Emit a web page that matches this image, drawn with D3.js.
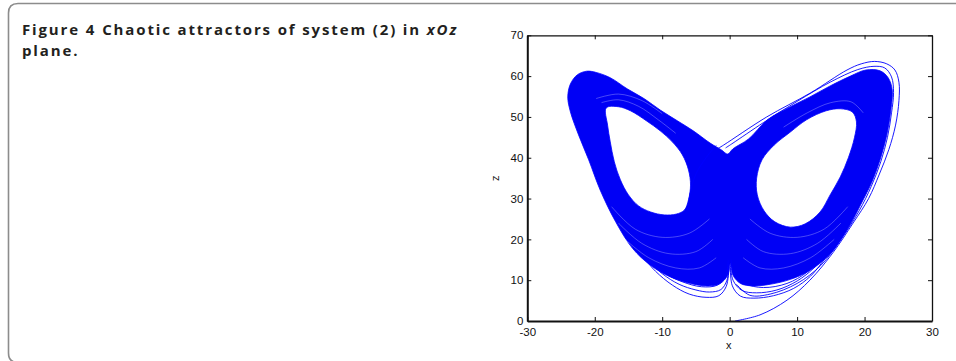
<!DOCTYPE html>
<html>
<head>
<meta charset="utf-8">
<script src="https://cdn.jsdelivr.net/npm/d3@7"></script>
<style>
  html, body { margin: 0; padding: 0; background: #fff; }
  svg { display: block; }
</style>
</head>
<body>
<div id="chart"></div>
<script>
// values (x, z)
const xTicks = [-30, -20, -10, 0, 10, 20, 30];
const zTicks = [0, 10, 20, 30, 40, 50, 60, 70];

// outline of the dense band of orbits
const outerEdge = [
  [-24.0, 54.9], [-23.6, 58.1], [-22.6, 60.3], [-21.2, 61.2], [-19.8, 60.9],
  [-17.7, 59.6], [-15.2, 56.9], [-12.6, 54.4], [-10.3, 51.7], [-7.7, 49.0],
  [-5.4, 46.6], [-2.9, 43.6], [-1.2, 41.9], [-0.3, 40.9], [0.5, 42.2],
  [2.8, 44.6], [5.6, 49.3], [9.0, 52.5], [11.9, 54.9], [14.9, 57.6],
  [17.9, 60.0], [20.2, 61.5], [22.3, 61.3], [23.5, 59.6], [24.1, 56.6],
  [23.9, 51.7], [23.3, 45.6], [22.3, 39.5], [21.1, 34.1], [19.8, 29.7],
  [17.4, 22.3], [14.9, 16.4], [11.9, 12.4], [9.0, 10.2], [6.0, 9.0],
  [3.4, 8.6], [1.6, 9.2], [0.5, 11.2], [0.1, 14.0], [-0.3, 11.2],
  [-1.4, 9.2], [-3.2, 8.6], [-5.8, 9.2], [-8.8, 10.8], [-11.7, 13.6],
  [-14.4, 17.8], [-16.9, 24.3], [-19.2, 32.1], [-20.9, 39.5], [-22.4, 45.6],
  [-23.6, 51.2]
];

// empty "eyes" of the two wings
const leftEye = [
  [-18.3, 52.2], [-16.5, 52.5], [-14.7, 51.5], [-12.3, 49.0], [-10.3, 46.6],
  [-8.5, 43.9], [-7.0, 40.7], [-6.1, 37.0], [-5.8, 33.3], [-6.1, 29.7],
  [-6.7, 27.2], [-7.9, 26.2], [-9.7, 26.0], [-11.7, 26.7], [-13.5, 28.2],
  [-15.0, 30.9], [-16.2, 34.6], [-17.1, 39.0], [-17.7, 43.9], [-18.1, 48.0]
];
const rightEye = [
  [14.3, 51.5], [16.4, 52.0], [18.2, 51.2], [18.8, 48.8], [18.5, 44.9],
  [17.6, 40.0], [16.4, 35.3], [14.9, 30.9], [13.4, 26.7], [11.2, 23.8],
  [9.0, 23.0], [6.7, 24.3], [5.1, 27.0], [4.1, 30.9], [4.0, 35.0],
  [4.8, 39.5], [6.6, 43.1], [9.0, 46.3], [11.4, 49.3]
];

// first transient orbit, from the start point near the origin
const startOrbit = [
  [0.8, 0.0], [4.5, 1.5], [8.5, 5.1], [11.9, 10.0], [15.3, 16.7],
  [18.3, 24.0], [20.6, 30.0], [22.2, 36.0], [23.6, 42.0], [24.6, 48.0],
  [25.1, 54.0], [25.1, 58.5], [24.5, 61.5], [23.3, 63.0], [21.5, 63.6],
  [19.5, 63.0], [17.4, 61.5], [12.0, 55.9], [5.5, 50.0], [-0.9, 43.1],
  [-2.0, 42.0]
];
const secondOrbit = [
  [1.0, 9.0], [3.0, 6.3], [6.0, 6.6], [10.0, 9.2], [13.5, 13.6],
  [16.5, 20.0], [19.2, 27.0], [21.0, 33.0], [22.4, 39.0], [23.4, 45.0],
  [24.0, 51.0], [24.3, 56.0], [24.0, 59.8], [23.0, 62.0], [21.4, 62.4],
  [19.0, 61.6], [15.0, 58.6], [10.0, 53.8], [5.0, 48.6], [0.5, 43.6],
  [-0.6, 42.4]
];
const eyeStray = [
  [-2.0, 43.0], [-3.5, 40.0], [-5.0, 36.0], [-5.9, 31.0], [-6.2, 27.0]
];

// loose orbits hanging under the band
const fringeLines = [
  [[-13.0, 16.0], [-11.0, 12.2], [-8.5, 8.8], [-6.0, 6.6], [-3.5, 5.8], [-1.6, 6.2], [-0.5, 8.5], [-0.1, 13.0]],
  [[-12.5, 15.5], [-10.0, 11.6], [-7.5, 9.0], [-5.0, 7.6], [-3.0, 7.1], [-1.3, 7.7], [-0.4, 10.0], [-0.1, 14.0]],
  [[-12.0, 15.0], [-9.5, 11.6], [-7.0, 9.6], [-4.2, 8.4], [-1.8, 8.8], [-0.6, 11.0], [-0.2, 15.0]],
  [[0.1, 13.0], [0.4, 8.6], [1.6, 6.1], [3.6, 5.6], [6.5, 6.2], [9.5, 8.0], [12.0, 11.0], [14.0, 15.0]],
  [[0.1, 14.0], [0.5, 10.0], [1.8, 7.5], [4.0, 6.9], [7.0, 7.6], [10.0, 9.8], [12.5, 13.0], [14.0, 16.0]],
  [[0.2, 15.0], [0.7, 11.5], [2.2, 9.2], [5.0, 8.2], [8.5, 9.2], [11.5, 12.0], [13.5, 15.5]]
];

// thin white gaps seen between orbits inside the band
const gapLines = [
  [[-19.0, 53.5], [-16.5, 54.2], [-13.5, 52.6], [-10.5, 49.2], [-8.0, 46.0]],
  [[-19.8, 54.5], [-16.5, 55.6], [-13.0, 54.0], [-10.0, 50.8]],
  [[-17.5, 28.0], [-14.0, 22.5], [-10.0, 20.5], [-6.0, 21.5], [-3.0, 25.0]],
  [[-16.5, 24.0], [-13.0, 19.0], [-9.0, 16.5], [-5.0, 17.0], [-2.5, 20.0]],
  [[-15.5, 20.0], [-12.0, 15.5], [-8.0, 13.0], [-4.5, 13.0], [-2.0, 15.5]],
  [[2.5, 20.0], [5.0, 17.0], [9.0, 16.5], [13.0, 19.0], [16.5, 24.0]],
  [[2.0, 15.5], [4.5, 13.0], [8.0, 13.0], [12.0, 15.5], [15.5, 20.0]],
  [[3.0, 25.0], [6.0, 21.5], [10.0, 20.5], [14.0, 22.5], [17.5, 28.0]],
  [[8.0, 47.5], [11.5, 51.0], [15.0, 53.5], [18.0, 53.7], [19.8, 51.0]]
];

const W = 956, H = 361;
const plot = { left: 527.3, right: 932, top: 35.3, bottom: 321 };

const svg = d3.select("#chart").append("svg")
  .attr("width", W)
  .attr("height", H);

// card border, open on the right; the bottom edge sits just below the frame
svg.append("path")
  .attr("d", "M 958 3.5 H 18 Q 8.5 3.5 8.5 13 V 353 Q 8.5 362.5 18 362.5 H 958")
  .attr("fill", "none")
  .attr("stroke", "#8c8c8c")
  .attr("stroke-width", 1.6);

// caption
const titleFont = "'Open Sans', sans-serif";
const titleSize = 15;
const title = svg.append("text")
  .attr("x", 22)
  .attr("y", 35)
  .style("font-family", titleFont)
  .style("font-weight", 700)
  .style("font-size", titleSize + "px")
  .attr("fill", "#231f20");
title.append("tspan").text("Figure 4");
title.append("tspan").attr("dx", 6).text("Chaotic attractors of system (2) in ");
title.append("tspan").style("font-style", "italic").text("xOz");
const titleChars = "Figure 4 Chaotic attractors of system (2) in xOz".length;
const spread = Math.max(0, (432 - title.node().getComputedTextLength()) / titleChars);
title.style("letter-spacing", spread + "px");

svg.append("text")
  .attr("x", 22)
  .attr("y", 55.5)
  .style("font-family", titleFont)
  .style("font-weight", 700)
  .style("font-size", titleSize + "px")
  .style("letter-spacing", spread + "px")
  .attr("fill", "#231f20")
  .text("plane.");

const xScale = d3.scaleLinear().domain([-30, 30]).range([plot.left, plot.right]);
const zScale = d3.scaleLinear().domain([0, 70]).range([plot.bottom, plot.top]);

const g = svg.append("g");

g.append("clipPath").attr("id", "clip")
  .append("rect")
  .attr("x", plot.left).attr("y", plot.top)
  .attr("width", plot.right - plot.left)
  .attr("height", plot.bottom - plot.top);

const closed = d3.line()
  .x(d => xScale(d[0]))
  .y(d => zScale(d[1]))
  .curve(d3.curveCatmullRomClosed.alpha(0.5));

const open = d3.line()
  .x(d => xScale(d[0]))
  .y(d => zScale(d[1]))
  .curve(d3.curveCatmullRom.alpha(0.5));

const marks = g.append("g").attr("clip-path", "url(#clip)");

marks.append("path")
  .attr("d", closed(outerEdge) + closed(leftEye) + closed(rightEye))
  .attr("fill", "#0000f5")
  .attr("fill-rule", "evenodd")
  .attr("stroke", "#0000ff")
  .attr("stroke-width", 0.8);

marks.selectAll(".gap")
  .data(gapLines)
  .enter()
  .append("path")
  .attr("class", "gap")
  .attr("d", d => open(d))
  .attr("fill", "none")
  .attr("stroke", "#ffffff")
  .attr("stroke-opacity", 0.4)
  .attr("stroke-width", 0.7);

marks.selectAll(".orbit")
  .data([startOrbit, secondOrbit, eyeStray].concat(fringeLines))
  .enter()
  .append("path")
  .attr("class", "orbit")
  .attr("d", d => open(d))
  .attr("fill", "none")
  .attr("stroke", "#0000ff")
  .attr("stroke-width", 0.9);

// axes, matlab style: ticks inward on all four sides
const tickFont = "'Liberation Sans', Arial, sans-serif";
const plain = d => String(d);

const xAxis = g.append("g")
  .attr("transform", `translate(0,${plot.bottom})`)
  .call(d3.axisBottom(xScale).tickValues(xTicks).tickFormat(plain)
    .tickSizeInner(-4).tickSizeOuter(0).tickPadding(6.5));
const zAxis = g.append("g")
  .attr("transform", `translate(${plot.left},0)`)
  .call(d3.axisLeft(zScale).tickValues(zTicks).tickFormat(plain)
    .tickSizeInner(-4).tickSizeOuter(0).tickPadding(4));
const xTop = g.append("g")
  .attr("transform", `translate(0,${plot.top})`)
  .call(d3.axisTop(xScale).tickValues(xTicks).tickSizeInner(-4).tickSizeOuter(0).tickFormat(""));
const zRight = g.append("g")
  .attr("transform", `translate(${plot.right},0)`)
  .call(d3.axisRight(zScale).tickValues(zTicks).tickSizeInner(-4).tickSizeOuter(0).tickFormat(""));

[xAxis, zAxis, xTop, zRight].forEach(a => {
  a.select(".domain").attr("stroke", "#111").attr("stroke-width", 1.3);
  a.selectAll(".tick line").attr("stroke", "#111");
  a.selectAll("text")
    .style("font-family", tickFont)
    .style("font-size", "11.5px")
    .attr("fill", "#111");
});
xAxis.select(".domain").attr("stroke-width", 2);
zAxis.select(".domain").attr("stroke-width", 2);

g.append("text")
  .attr("x", xScale(0) - 1)
  .attr("y", 349)
  .attr("text-anchor", "middle")
  .style("font-family", tickFont)
  .style("font-size", "11px")
  .attr("fill", "#111")
  .text("x");

g.append("text")
  .attr("transform", `translate(499,${zScale(35)}) rotate(-90)`)
  .attr("text-anchor", "middle")
  .style("font-family", tickFont)
  .style("font-size", "11px")
  .attr("fill", "#111")
  .text("z");
</script>
</body>
</html>
